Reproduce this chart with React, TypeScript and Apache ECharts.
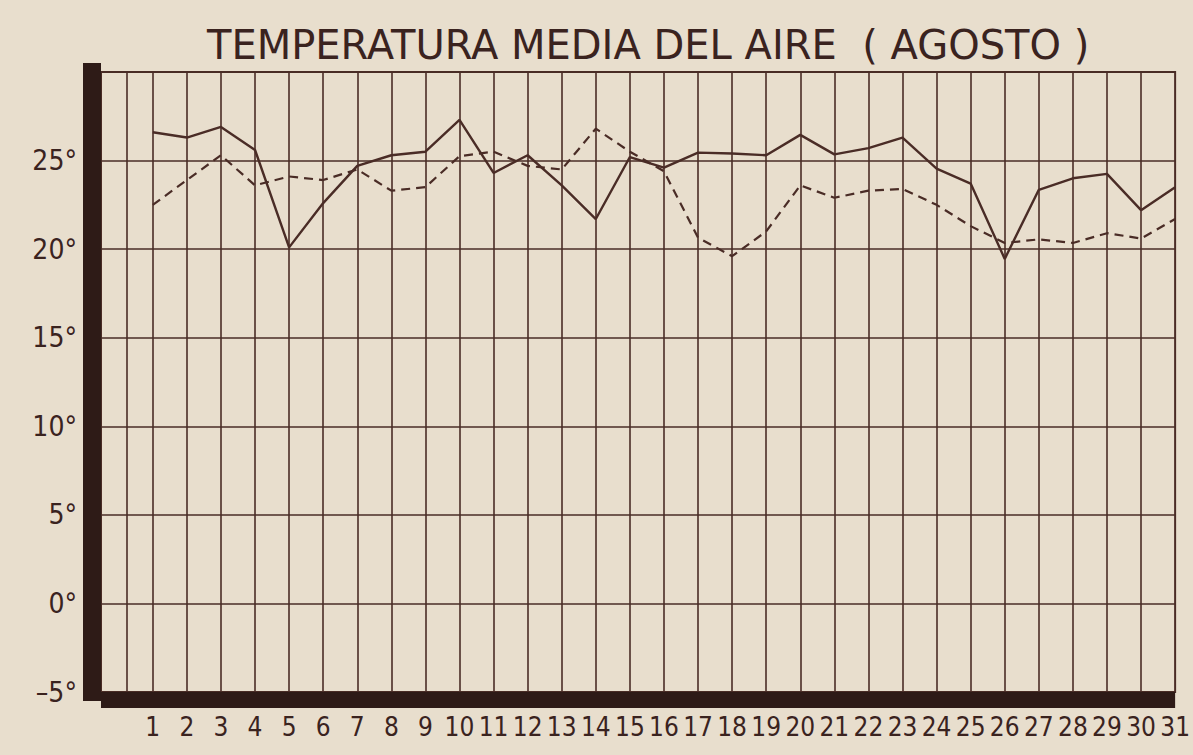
import React, { useEffect, useRef } from "react";
import * as echarts from "echarts";

const TITLE = "TEMPERATURA MEDIA DEL AIRE  ( AGOSTO )";

const DAYS = [
  1, 2, 3, 4, 5, 6, 7, 8, 9, 10, 11, 12, 13, 14, 15, 16, 17, 18, 19, 20, 21,
  22, 23, 24, 25, 26, 27, 28, 29, 30, 31,
];

// solid line
const TEMP_SOLID = [
  26.6, 26.3, 26.9, 25.6, 20.1, 22.6, 24.7, 25.3, 25.5, 27.3, 24.3, 25.3, 23.6,
  21.7, 25.2, 24.6, 25.45, 25.4, 25.3, 26.45, 25.35, 25.7, 26.3, 24.55, 23.7,
  19.45, 23.35, 24.0, 24.25, 22.2, 23.5,
];

// dashed line
const TEMP_DASHED = [
  22.5, 23.9, 25.3, 23.6, 24.1, 23.9, 24.5, 23.3, 23.5, 25.25, 25.5, 24.7, 24.5,
  26.8, 25.5, 24.4, 20.65, 19.6, 21.0, 23.6, 22.9, 23.3, 23.4, 22.5, 21.3,
  20.35, 20.55, 20.35, 20.9, 20.6, 21.7,
];

const Y_MIN = -5;
const Y_MAX = 30;
const Y_STEP = 5;
const X_MIN = -0.52;
const X_MAX = 31;
// vertical rulings of the paper (the first one is a narrower column)
const VERTICAL_RULINGS = [
  0.25, 1, 2, 3, 4, 5, 6, 7, 8, 9, 10, 11, 12, 13, 14, 15, 16, 17, 18, 19, 20,
  21, 22, 23, 24, 25, 26, 27, 28, 29, 30,
];

const PAPER = "#e8decd";
const INK_LINE = "#4a2c26";
const INK_DARK = "#2e1b17";
const TEXT = "#3a231f";

export default function App() {
  const ref = useRef<HTMLDivElement>(null);

  useEffect(() => {
    if (!ref.current) return;
    const chart = echarts.init(ref.current, null, { renderer: "svg" });
    chart.setOption({
      animation: false,
      backgroundColor: PAPER,
      title: {
        text: TITLE,
        left: 202,
        top: 20,
        textStyle: {
          fontFamily: "'DejaVu Sans', sans-serif",
          fontSize: 40,
          fontWeight: "normal",
          color: TEXT,
        },
      },
      grid: {
        left: 101,
        right: 14,
        top: 72,
        bottom: 63,
        show: true,
        borderColor: INK_LINE,
        borderWidth: 2,
        backgroundColor: "transparent",
      },
      xAxis: {
        type: "value",
        min: X_MIN,
        max: X_MAX,
        offset: 8,
        axisLine: {
          show: true,
          onZero: false,
          lineStyle: { color: INK_DARK, width: 16, cap: "butt" },
        },
        axisTick: { show: false },
        splitLine: { show: false },
        axisLabel: {
          customValues: DAYS,
          margin: 14,
          fontFamily: "'DejaVu Sans Condensed', 'Liberation Sans Narrow', sans-serif",
          fontSize: 26,
          color: TEXT,
          formatter: (v: number) => String(v),
        },
      },
      yAxis: {
        type: "value",
        min: Y_MIN,
        max: Y_MAX,
        interval: Y_STEP,
        offset: 9,
        axisLine: {
          show: true,
          onZero: false,
          lineStyle: { color: INK_DARK, width: 18, cap: "square" },
        },
        axisTick: { show: false },
        splitLine: {
          show: true,
          lineStyle: { color: INK_LINE, width: 1.6 },
        },
        axisLabel: {
          margin: 15,
          fontFamily: "'DejaVu Sans Condensed', sans-serif",
          fontSize: 28,
          color: TEXT,
          formatter: (v: number) =>
            v === Y_MAX ? "" : (v < 0 ? "\u2013" + Math.abs(v) : String(v)) + "°",
        },
      },
      series: [
        {
          name: "Temperatura media",
          type: "line",
          data: DAYS.map((d, i) => [d, TEMP_SOLID[i]]),
          symbol: "none",
          lineStyle: { color: INK_LINE, width: 2.4 },
          z: 5,
          markLine: {
            silent: true,
            symbol: ["none", "none"],
            label: { show: false },
            lineStyle: { color: INK_LINE, width: 1.6, type: "solid" },
            emphasis: { disabled: true },
            data: VERTICAL_RULINGS.map((d) => ({ xAxis: d })),
            z: 1,
          },
        },
        {
          name: "Media normal",
          type: "line",
          data: DAYS.map((d, i) => [d, TEMP_DASHED[i]]),
          symbol: "none",
          lineStyle: { color: INK_LINE, width: 2.2, type: [9, 6] },
          z: 5,
        },
      ],
    });
    return () => chart.dispose();
  }, []);

  return (
    <div
      style={{
        position: "fixed",
        left: 0,
        top: 0,
        width: 1193,
        height: 755,
        background: PAPER,
      }}
    >
      <div ref={ref} style={{ width: 1193, height: 755 }} />
    </div>
  );
}
